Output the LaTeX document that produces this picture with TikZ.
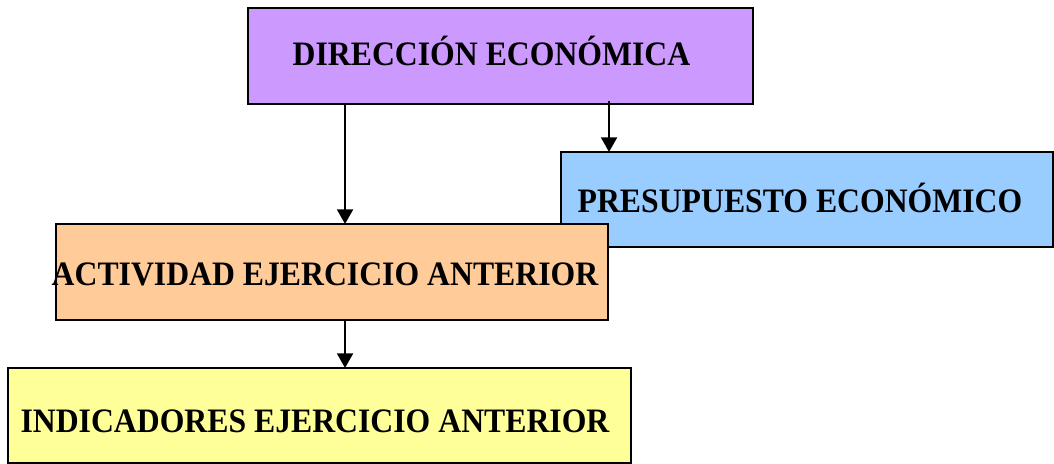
\documentclass[tikz,border=0pt]{standalone}
\usepackage{fontspec}
\setmainfont{Liberation Serif}
\usetikzlibrary{arrows.meta}
\definecolor{cpurple}{HTML}{CC99FF}
\definecolor{cblue}{HTML}{99CCFF}
\definecolor{corange}{HTML}{FFCC99}
\definecolor{cyellow}{HTML}{FFFF99}
\tikzset{
  box/.style={draw=black, line width=1.5pt, rectangle, inner sep=0pt, outer sep=0pt},
  lbl/.style={anchor=base, inner sep=0pt, font=\fontsize{23.8pt}{28pt}\selectfont\bfseries},
  arr/.style={line width=1.5pt, -{Triangle[width=12pt,length=11pt]}}
}
\begin{document}
\begin{tikzpicture}[x=0.75pt,y=-0.75pt]
\useasboundingbox[fill=white] (0,0) rectangle (1054,464);
\node[box, fill=cpurple, minimum width=378.75pt, minimum height=72pt] (b1) at (500.5,56) {};
\node[lbl] (t1) at (491.5,65.5) {\scalebox{1}[1.08]{DIRECCIÓN ECONÓMICA}};
\node[box, fill=cblue, minimum width=369pt, minimum height=71.25pt] (b2) at (807,199.5) {};
\node[lbl] (t2) at (800,212) {\scalebox{1}[1.08]{PRESUPUESTO ECONÓMICO}};
\node[box, fill=corange, minimum width=414pt, minimum height=72pt] (b3) at (332,272) {};
\node[lbl] (t3) at (325,285.5) {\scalebox{1}[1.08]{ACTIVIDAD EJERCICIO ANTERIOR}};
\node[box, fill=cyellow, minimum width=467.25pt, minimum height=71.25pt] (b4) at (319.5,415.5) {};
\node[lbl] (t4) at (315,432) {\scalebox{1}[1.08]{INDICADORES EJERCICIO ANTERIOR}};
\draw[arr] ([xshift=-116.6pt]b1.south) coordinate (s1) -- (s1 |- b3.north);
\draw[arr] ([xshift=81.4pt,yshift=2.2pt]b1.south) coordinate (s2) -- (s2 |- b2.north);
\draw[arr] (s1 |- b3.south) -- (s1 |- b4.north);
\end{tikzpicture}
\end{document}
